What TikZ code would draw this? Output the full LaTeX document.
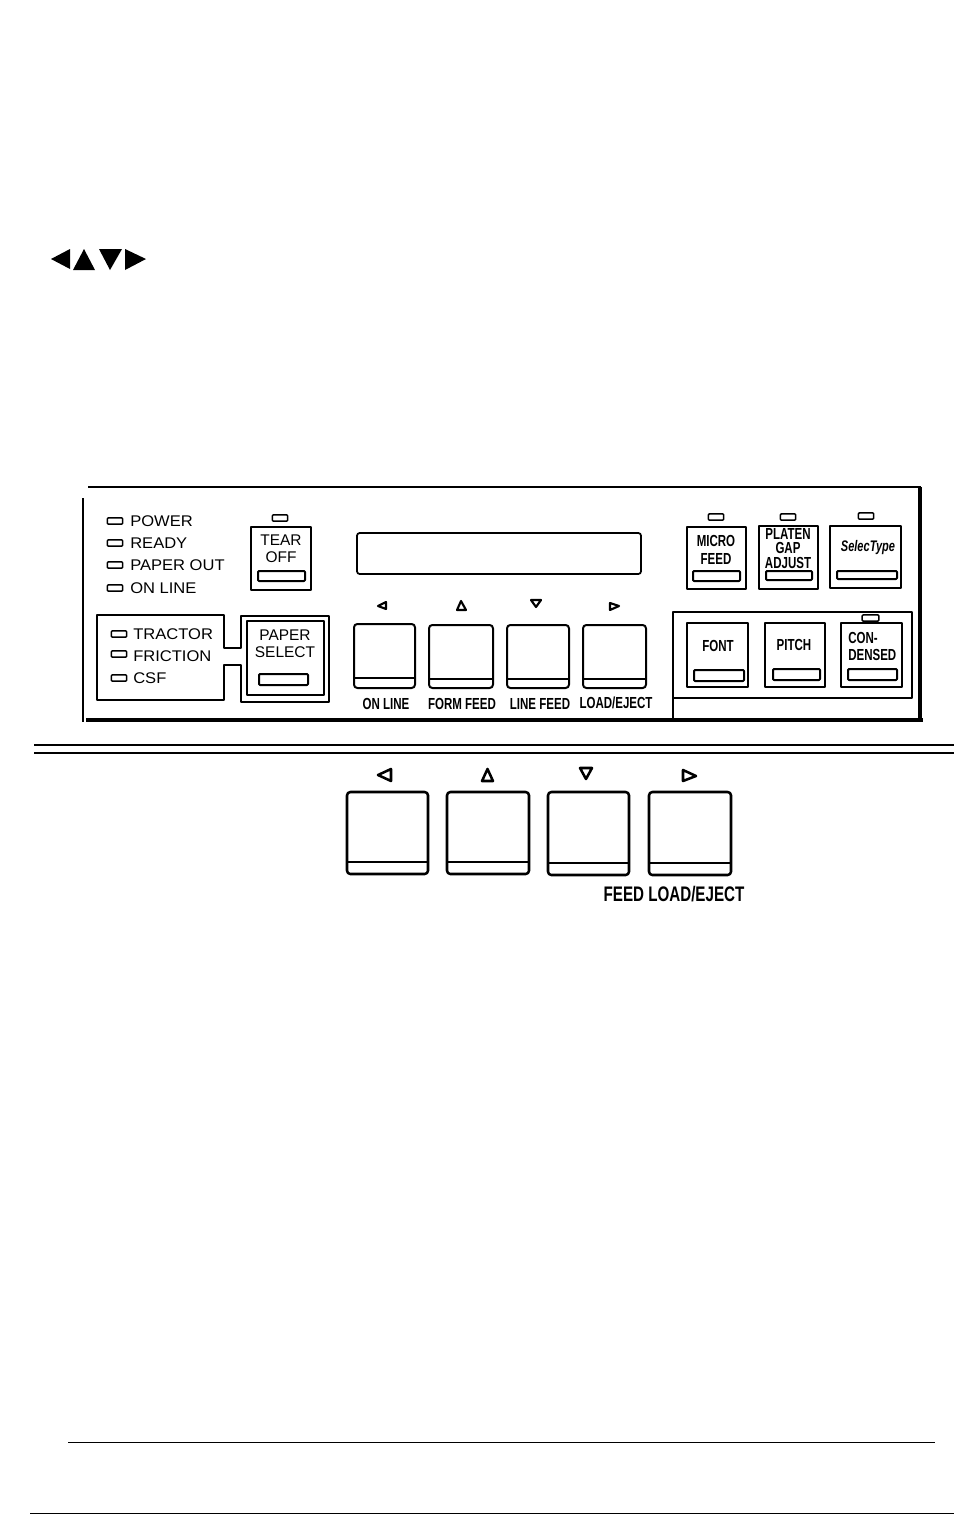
\documentclass[tikz,border=0pt]{standalone}
\usepackage{fontspec}
\setmainfont{Liberation Sans}
\newfontfamily\keyfont[FakeStretch=.72]{Liberation Sans}
\newfontfamily\ledfont[FakeStretch=1.07]{Liberation Sans}
\begin{document}
\begin{tikzpicture}[x=.75pt, y=-.75pt, line join=round,
  led node/.style={rectangle,draw,line width=1.1pt,rounded corners=.8pt,minimum width=11.5pt,minimum height=4.8pt,inner sep=0pt},
  panel box/.style={draw,line width=1.2pt},
  bar box/.style={draw,line width=1.5pt,rounded corners=.8pt},
  big key/.style={draw,line width=1.5pt,rounded corners=2.5pt},
  tri mark/.style={draw,line width=1.6pt,fill=white},
  tri solid/.style={fill=black},
  led text/.style={font=\ledfont\fontsize{11.6}{12}\selectfont,anchor=west,inner sep=0pt},
  key text/.style={font=\fontsize{11.6}{12}\selectfont,inner sep=0pt},
  small text/.style={font=\keyfont\bfseries\fontsize{12}{12}\selectfont,inner sep=0pt},
  big text/.style={font=\keyfont\bfseries\fontsize{15.8}{17}\selectfont,inner sep=0pt}]
\useasboundingbox (0,0) rectangle (954,1514);
% solid arrows at the top
\fill[tri solid] (51,259) -- (70,249) -- (70,269) -- cycle;
\fill[tri solid] (84,249) -- (95,270) -- (73,270) -- cycle;
\fill[tri solid] (110,270) -- (99,249) -- (122,249) -- cycle;
\fill[tri solid] (146,259) -- (125,249) -- (125,270) -- cycle;
% panel frame
\draw[line width=2.2pt] (88,487) -- (921,487);
\draw[line width=2.4pt] (920,487) -- (920,720);
\draw[line width=2.4pt] (86,720) -- (923,720);
\draw[line width=1.6pt] (83,498) -- (83,722);
% status lamps
\node [led node](ledpower) at (115,521) {};
\node [led node](ledready) at (115,543) {};
\node [led node](ledpaper) at (115,565) {};
\node [led node](ledonline) at (115,588) {};
\node [led text](power) at (130,521) {POWER};
\node [led text](ready) at (130,543) {READY};
\node [led text](paperout) at (130,565) {PAPER OUT};
\node [led text](online) at (130,588) {ON LINE};
% tear off
\node [led node](ledtear) at (280,518) {};
\draw[panel box] (251,527) rectangle (311,590);
\draw[bar box] (258,571) rectangle (305,581);
\node [key text](tear) at (281,540) {TEAR};
\node [key text](off) at (281,557) {OFF};
% paper select
\draw[panel box] (224,648) -- (224,615) -- (97,615) -- (97,700) -- (224,700) -- (224,665) -- (241,665) -- (241,702) -- (329,702) -- (329,616) -- (241,616) -- (241,648) -- cycle;
\draw[panel box] (247,621) rectangle (324,695);
\draw[bar box] (259,674) rectangle (308,685);
\node [key text](paper) at (285,635) {PAPER};
\node [key text](select) at (285,652) {SELECT};
\node [led node](ledtractor) at (119,634) {};
\node [led node](ledfriction) at (119,654) {};
\node [led node](ledcsf) at (119,678) {};
\node [led text](tractor) at (133,634) {TRACTOR};
\node [led text](friction) at (133,656) {FRICTION};
\node [led text](csf) at (133,678) {CSF};
% display
\draw[line width=1.3pt,rounded corners=2pt] (357,533) rectangle (641,574);
% panel keys
\draw[tri mark] (378,606) -- (386,602) -- (386,609) -- cycle;
\draw[tri mark] (461,601) -- (466,610) -- (457,610) -- cycle;
\draw[tri mark] (536,607) -- (531,600) -- (541,600) -- cycle;
\draw[tri mark] (619,606) -- (610,603) -- (610,610) -- cycle;
\draw[big key] (354,624) rectangle (415,688);
\draw[big key] (429,625) rectangle (493,688);
\draw[big key] (507,625) rectangle (569,688);
\draw[big key] (583,625) rectangle (646,688);
\draw[line width=1.1pt] (354,678) -- (415,678);
\draw[line width=1.1pt] (429,679) -- (493,679);
\draw[line width=1.1pt] (507,679) -- (569,679);
\draw[line width=1.1pt] (583,679) -- (646,679);
\node [small text](keyonline) at (386,704) {ON LINE};
\node [small text](keyform) at (462,704) {FORM FEED};
\node [small text](keyline) at (540,704) {LINE FEED};
\node [small text](keyload) at (616,703) {LOAD/EJECT};
% upper right keys
\node [led node](ledmicro) at (716,517) {};
\node [led node](ledplaten) at (788,517) {};
\node [led node](ledselec) at (866,516) {};
\draw[panel box] (687,527) rectangle (746,589);
\draw[bar box] (693,571) rectangle (740,581);
\draw[panel box] (759,526) rectangle (818,589);
\draw[bar box] (766,571) rectangle (812,580);
\draw[panel box] (830,526) rectangle (901,588);
\draw[bar box] (837,571) rectangle (897,579);
\node [small text](micro) at (716,541) {MICRO};
\node [small text](feed) at (716,559) {FEED};
\node [small text](platen) at (788,534) {PLATEN};
\node [small text](gap) at (788,548) {GAP};
\node [small text](adjust) at (788,563) {ADJUST};
\node [small text,font=\keyfont\bfseries\itshape\fontsize{11.5}{12}\selectfont](selectype) at (868,548) {SelecType};
% lower right keys
\draw[line width=.8pt] (673,718) -- (673,612) -- (912,612) -- (912,698) -- (673,698);
\draw[panel box] (687,623) rectangle (748,687);
\draw[bar box] (694,670) rectangle (744,681);
\draw[panel box] (765,623) rectangle (825,687);
\draw[bar box] (773,669) rectangle (820,680);
\draw[panel box] (841,623) rectangle (902,687);
\draw[bar box] (848,669) rectangle (897,680);
\node [led node,minimum width=12.5pt](ledcon) at (870.5,618) {};
\node [small text](font) at (718,646) {FONT};
\node [small text](pitch) at (794,645) {PITCH};
\node [small text,anchor=west](con) at (848,638) {CON-};
\node [small text,anchor=west](densed) at (848,655) {DENSED};
% double rule
\draw[line width=1.5pt] (34,745) -- (954,745);
\draw[line width=1.5pt] (34,753) -- (954,753);
% enlarged keys
\draw[tri mark,line width=1.9pt] (378,775) -- (391,769) -- (391,781) -- cycle;
\draw[tri mark,line width=1.9pt] (487.5,769) -- (493,781) -- (482,781) -- cycle;
\draw[tri mark,line width=1.9pt] (586,779) -- (580,768) -- (592,768) -- cycle;
\draw[tri mark,line width=1.9pt] (696,776) -- (683,770) -- (683,781) -- cycle;
\draw[big key,line width=1.9pt] (347,792) rectangle (428,874);
\draw[big key,line width=1.9pt] (447,792) rectangle (529,874);
\draw[big key,line width=1.9pt] (548,792) rectangle (629,875);
\draw[big key,line width=1.9pt] (649,792) rectangle (731,875);
\draw[line width=1.1pt] (347,862) -- (428,862);
\draw[line width=1.1pt] (447,862) -- (529,862);
\draw[line width=1.1pt] (548,863) -- (629,863);
\draw[line width=1.1pt] (649,863) -- (731,863);
\node [big text](feedload) at (674,894) {FEED LOAD/EJECT};
% page rules
\draw[line width=.7pt] (68,1442) -- (935,1442);
\draw[line width=.7pt] (30,1513) -- (954,1513);
\end{tikzpicture}
\end{document}
